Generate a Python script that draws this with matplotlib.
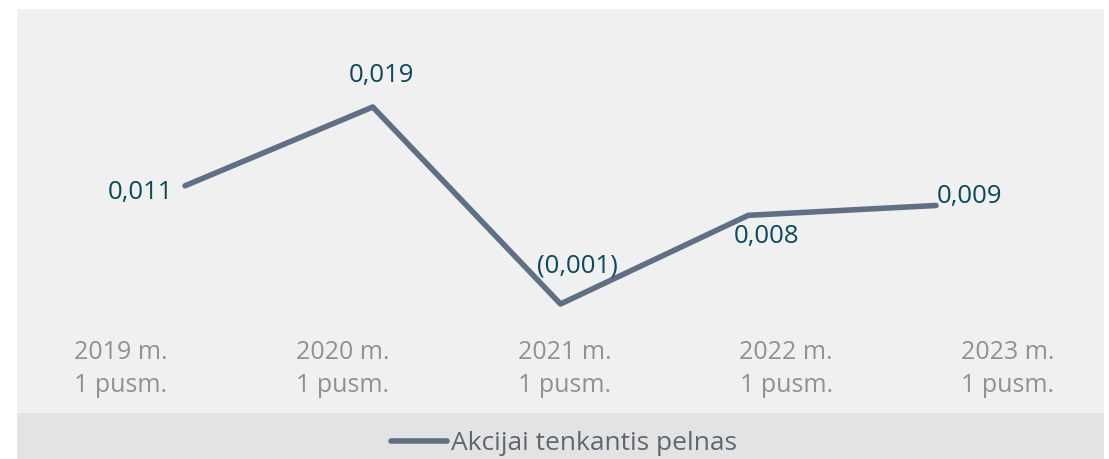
import matplotlib
matplotlib.use("Agg")
import matplotlib.pyplot as plt
from matplotlib.patches import Rectangle

plt.rcParams['font.family'] = ['Open Sans', 'DejaVu Sans']

# data
periods = ['2019 m.\n1 pusm.', '2020 m.\n1 pusm.', '2021 m.\n1 pusm.',
           '2022 m.\n1 pusm.', '2023 m.\n1 pusm.']
eps = [0.011, 0.019, -0.001, 0.008, 0.009]
eps_text = ['0,011', '0,019', '(0,001)', '0,008', '0,009']
series_name = 'Akcijai tenkantis pelnas'

line_color = '#5f7085'
label_color = '#0b4a5c'

W, H = 1109, 459
fig = plt.figure(figsize=(W / 100, H / 100), dpi=100)
fig.patch.set_facecolor('white')

# legend band at the bottom
fig.patches.append(Rectangle((17 / W, 0), 1087 / W, 46 / H, transform=fig.transFigure,
                             facecolor='#e3e3e3', edgecolor='none', zorder=0))

# main plot area
ax = fig.add_axes([17 / W, 46 / H, 1087 / W, 404 / H])
ax.set_facecolor('#f0f0f0')
for s in ax.spines.values():
    s.set_visible(False)
ax.set_xticks([])
ax.set_yticks([])
ax.set_xlim(-0.895, 4.895)
ax.set_ylim(-0.01207, 0.02895)

x = list(range(len(eps)))
ax.plot(x, eps, color=line_color, lw=4, solid_capstyle='round',
        label=series_name)

# data labels (offsets in pixels)
offsets = [(-12, -7, 'right'), (9, 31, 'center'), (17, 38, 'center'),
           (18, -21, 'center'), (1, 9, 'left')]
for xi, v, t, (dx, dy, ha) in zip(x, eps, eps_text, offsets):
    ax.annotate(t, (xi, v), xytext=(dx, dy), textcoords='offset pixels',
                ha=ha, va='center', fontsize=18.5, color=label_color)

# category labels sit on their own axis
ax2 = fig.add_axes([17 / W, (459 - 340) / H, 1087 / W, 0.01], frameon=False)
ax2.set_xlim(-0.469, 4.433)
ax2.set_yticks([])
ax2.set_xticks(range(len(periods)))
ax2.set_xticklabels(periods, fontsize=18, color='#8b9398', linespacing=1.42)
ax2.tick_params(length=0, pad=0)
ax2.patch.set_visible(False)

leg = fig.legend(loc='center', bbox_to_anchor=(564 / W, (459 - 444) / H),
                 frameon=False, fontsize=19, labelcolor='#5d6871',
                 handlelength=2.1, handletextpad=0.15)

fig.savefig('out.png', dpi=100, facecolor='white')
